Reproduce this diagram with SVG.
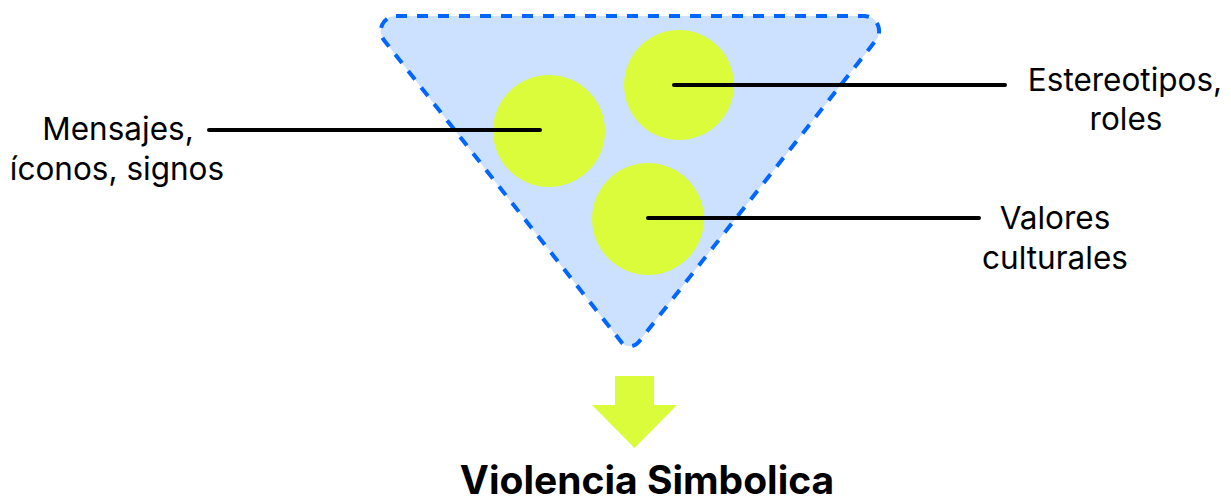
<svg xmlns="http://www.w3.org/2000/svg" width="1231" height="502" viewBox="0 0 1231 502">
<style>
.lbl{font-family:Inter,"Noto Sans",sans-serif;font-size:31.5px;fill:#000;text-anchor:middle}
.ttl{font-family:Inter,"Noto Sans",sans-serif;font-size:39px;font-weight:700;fill:#000;text-anchor:middle}
.bubble{fill:#dbfc3a}
.lead{stroke:#000;stroke-width:4;stroke-linecap:round;fill:none}
</style>
<rect width="1231" height="502" fill="#fff"/>
<g id="funnel">
<path d="M396,16 L864,16 A15,15 0 0 1 875.8,40.4 L638.7,342 A11,11 0 0 1 621.3,342 L384.2,40.4 A15,15 0 0 1 396,16 Z" fill="#cce0ff" stroke="#0066ff" stroke-width="4" stroke-dasharray="11 10"/>
</g>
<g id="c-mensajes"><circle class="bubble" cx="549" cy="131" r="56"/></g>
<g id="c-estereotipos"><circle class="bubble" cx="679" cy="85" r="55"/></g>
<g id="c-valores"><circle class="bubble" cx="648" cy="219" r="56"/></g>
<g id="connectors">
<line class="lead" x1="209" y1="130" x2="540" y2="130"/>
<line class="lead" x1="674" y1="85" x2="1005" y2="85"/>
<line class="lead" x1="648" y1="218" x2="979" y2="218"/>
</g>
<g id="label-mensajes">
<text class="lbl" x="118" y="140">Mensajes,</text>
<text class="lbl" x="117" y="180">íconos, signos</text>
</g>
<g id="label-estereotipos">
<text class="lbl" x="1125" y="91">Estereotipos,</text>
<text class="lbl" x="1126" y="130">roles</text>
</g>
<g id="label-valores">
<text class="lbl" x="1055" y="229">Valores</text>
<text class="lbl" x="1055" y="269">culturales</text>
</g>
<g id="arrow">
<path d="M615,376 H654 V405 H677 L634.5,448 L592,405 H615 Z" fill="#dbfc3a"/>
</g>
<g id="title">
<text class="ttl" x="647" y="494">Violencia Simbolica</text>
</g>
</svg>
